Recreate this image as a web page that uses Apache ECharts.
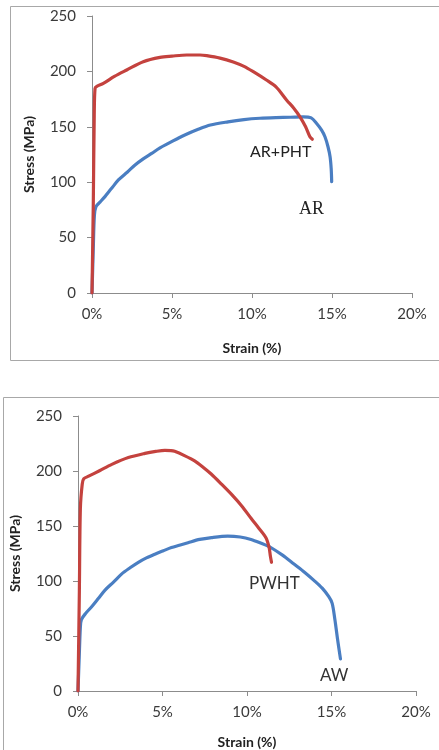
<!DOCTYPE html>
<html>
<head>
<meta charset="utf-8">
<script src="https://cdn.jsdelivr.net/npm/echarts@6/dist/echarts.min.js"></script>
<style>
html,body{margin:0;padding:0;background:#fff;}
#main{width:439px;height:750px;}
</style>
</head>
<body>
<div id="main"></div>
<script>
// Chart 1: AR and AR+PHT
var arStrain    = [0, 0.08, 0.15, 0.25, 0.5, 0.81, 1.2, 1.65, 2.2, 2.69, 3.2, 3.73, 4.25, 4.77, 5.3, 5.8, 6.6, 7.4, 8.5, 9.5, 10.5, 11.5, 12.4, 13.2, 13.7, 14.04, 14.35, 14.56, 14.75, 14.88, 14.95, 14.98];
var arStress    = [0, 40, 70, 78, 82, 87, 94, 102, 109, 115.5, 121, 126, 131, 135, 139, 142.6, 147.5, 151.6, 154.5, 156.5, 157.7, 158.3, 158.6, 159, 158, 153, 147, 141, 132, 123, 112, 100.5];
var arphtStrain = [0, 0.08, 0.14, 0.19, 0.3, 0.71, 1.4, 2.17, 3.2, 4.25, 5.0, 5.92, 6.75, 7.17, 8.0, 8.83, 9.5, 10.08, 10.9, 11.5, 12.17, 12.6, 13.0, 13.35, 13.62, 13.77];
var arphtStress = [0, 80, 160, 184.7, 186.5, 189.2, 195.5, 201.3, 208.8, 212.7, 213.8, 214.8, 214.8, 214.2, 212, 208.5, 204.5, 199.7, 192.2, 186, 174, 167, 159, 150, 141, 138.7];

// Chart 2: AW and PWHT
var awStrain    = [0, 0.07, 0.14, 0.2, 0.45, 0.82, 1.2, 1.6, 2.1, 2.59, 3.08, 3.57, 4.05, 4.55, 5.05, 5.53, 6.0, 6.51, 7.2, 7.9, 8.86, 9.6, 10.24, 10.8, 11.41, 12.1, 12.78, 13.4, 13.96, 14.45, 14.84, 15.04, 15.2, 15.35, 15.53];
var awStress    = [0, 30, 58, 64.9, 70.5, 76.8, 84, 91.7, 99, 106.5, 112, 117, 121, 124.4, 127.5, 130.4, 132.5, 134.8, 137.8, 139.5, 140.8, 140, 137.8, 134.5, 130.4, 123.5, 115.4, 108, 100.6, 93.5, 85.7, 79.7, 65, 48, 29.2];
var pwhtStrain  = [0, 0.08, 0.14, 0.25, 0.34, 0.63, 1.3, 2.0, 2.98, 3.96, 4.6, 5.14, 5.5, 5.72, 6.3, 6.9, 7.4, 7.88, 8.47, 9.1, 9.7, 10.24, 10.7, 11.12, 11.31, 11.38, 11.45];
var pwhtStress  = [0, 90, 166, 188, 192.9, 195.3, 200.5, 206, 212.2, 216, 217.8, 218.75, 218.6, 217.9, 214, 209.2, 203.5, 197.3, 188.4, 178.5, 168, 157, 148, 139.3, 130.4, 123, 117];

// Tick labels
var xTicks = [0, 5, 10, 15, 20];
var yTicks = [0, 50, 100, 150, 200, 250];

function pairs(xs, ys) { return xs.map(function (x, i) { return [x, ys[i]]; }); }

var RED = '#C4423E', BLUE = '#4A7EC2';
var AXC = '#8c8c8c', LBC = '#3a3a3a';
var tickFont = 'Lato, "Open Sans", sans-serif';

function xAxisCfg(gi, gap) {
  return {
    gridIndex: gi, type: 'value', min: xTicks[0], max: xTicks[xTicks.length - 1], interval: 5,
    name: 'Strain (%)', nameLocation: 'middle', nameGap: gap,
    nameTextStyle: { fontFamily: tickFont, fontWeight: 'bold', fontSize: 14, color: '#222' },
    axisLine: { show: true, lineStyle: { color: AXC, width: 1 } },
    axisTick: { show: true, length: 5, inside: false, lineStyle: { color: AXC } },
    axisLabel: { margin: 14, fontFamily: tickFont, fontSize: 15, color: LBC, formatter: '{value}%' },
    splitLine: { show: false }
  };
}
function yAxisCfg(gi) {
  return {
    gridIndex: gi, type: 'value', min: yTicks[0], max: yTicks[yTicks.length - 1], interval: 50,
    name: 'Stress (MPa)', nameLocation: 'middle', nameGap: 56, nameRotate: 90,
    nameTextStyle: { fontFamily: tickFont, fontWeight: 'bold', fontSize: 14, color: '#222' },
    axisLine: { show: true, lineStyle: { color: AXC, width: 1 } },
    axisTick: { show: true, length: 5, inside: false, lineStyle: { color: AXC } },
    axisLabel: { margin: 16, fontFamily: tickFont, fontSize: 15, color: LBC },
    splitLine: { show: false }
  };
}
function lineSeries(xi, data, color) {
  return {
    type: 'line', xAxisIndex: xi, yAxisIndex: xi, data: data, showSymbol: false, symbol: 'none',
    smooth: 0.3, lineStyle: { color: color, width: 3.2, cap: 'round', join: 'round' }, animation: false
  };
}

var chart = echarts.init(document.getElementById('main'), null, { renderer: 'canvas' });
chart.setOption({
  backgroundColor: '#fff',
  animation: false,
  grid: [
    { left: 92, top: 16, width: 320, height: 277 },
    { left: 76, top: 416, width: 340, height: 280 }
  ],
  xAxis: [xAxisCfg(0, 48), xAxisCfg(1, 44)],
  yAxis: [yAxisCfg(0), yAxisCfg(1)],
  series: [
    lineSeries(0, pairs(arStrain, arStress), BLUE),
    lineSeries(0, pairs(arphtStrain, arphtStress), RED),
    lineSeries(1, pairs(awStrain, awStress), BLUE),
    lineSeries(1, pairs(pwhtStrain, pwhtStress), RED)
  ],
  graphic: [
    { type: 'rect', shape: { x: 10.5, y: 6.5, width: 440, height: 354 }, style: { fill: 'none', stroke: '#a8a8a8', lineWidth: 1 }, z: -1 },
    { type: 'rect', shape: { x: 3.5, y: 397.5, width: 450, height: 370 }, style: { fill: 'none', stroke: '#a8a8a8', lineWidth: 1 }, z: -1 },
    { type: 'text', left: 250, top: 144, style: { text: 'AR+PHT', font: '16px Lato, sans-serif', fill: '#222' } },
    { type: 'text', left: 299, top: 200, style: { text: 'AR', font: '18px "Liberation Serif", serif', fill: '#222' } },
    { type: 'text', left: 249, top: 575, style: { text: 'PWHT', font: '17px Lato, sans-serif', fill: '#333' } },
    { type: 'text', left: 320, top: 667, style: { text: 'AW', font: '17px Lato, sans-serif', fill: '#333' } }
  ]
});
</script>
</body>
</html>
